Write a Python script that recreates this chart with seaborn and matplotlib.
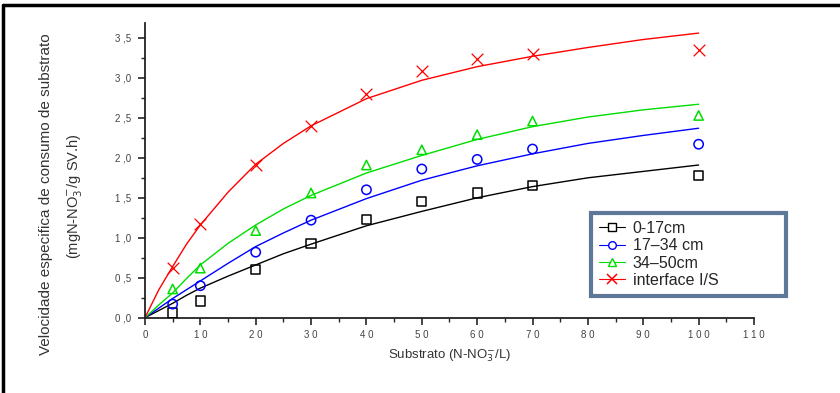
"""
Velocidade especifica de consumo de substrato vs substrato (N-NO3-)
Pontos experimentais e curvas ajustadas por camada do reator.
"""

import numpy as np
import pandas as pd
import matplotlib
matplotlib.use("Agg")
import matplotlib.pyplot as plt
from matplotlib.lines import Line2D
from matplotlib.ticker import MultipleLocator, FuncFormatter
import seaborn as sns

# Pontos experimentais
substrato = [5, 10, 20, 30, 40, 50, 60, 70, 100]
v_0_17 = [0.06, 0.21, 0.60, 0.93, 1.23, 1.45, 1.56, 1.65, 1.78]
v_17_34 = [0.17, 0.40, 0.82, 1.22, 1.60, 1.86, 1.98, 2.11, 2.17]
v_34_50 = [0.36, 0.62, 1.09, 1.56, 1.91, 2.10, 2.29, 2.46, 2.53]
v_interface = [0.62, 1.17, 1.91, 2.40, 2.80, 3.09, 3.23, 3.30, 3.35]

# Curvas ajustadas
x_curva = [0, 2.5, 5, 7.5, 10, 15, 20, 25, 30, 40, 50, 60, 70, 80, 90, 100]
c_0_17 = [0.0, 0.09, 0.18, 0.28, 0.37, 0.52, 0.66, 0.80, 0.92, 1.15, 1.33, 1.50, 1.64, 1.75, 1.83, 1.91]
c_17_34 = [0.0, 0.12, 0.24, 0.35, 0.46, 0.68, 0.89, 1.06, 1.22, 1.49, 1.72, 1.90, 2.05, 2.18, 2.28, 2.37]
c_34_50 = [0.0, 0.16, 0.31, 0.49, 0.66, 0.93, 1.16, 1.36, 1.53, 1.81, 2.03, 2.23, 2.39, 2.51, 2.60, 2.67]
c_interface = [0.0, 0.35, 0.64, 0.92, 1.16, 1.57, 1.92, 2.18, 2.40, 2.74, 2.97, 3.14, 3.27, 3.38, 3.48, 3.56]

series = ["0-17cm", "17\u201334 cm", "34\u201350cm", "interface I/S"]
cores = ["#000000", "#0000ff", "#00dd00", "#ff0000"]
marcadores = ["s", "o", "^", "x"]


def main():
    sns.set_style("ticks")
    plt.rcParams["font.family"] = ["Liberation Sans", "DejaVu Sans"]

    fig = plt.figure(figsize=(8.4, 3.93), dpi=100)
    ax = fig.add_axes([0.1726, 0.1916, 0.725, 0.7506])

    pontos = pd.DataFrame({
        "S": substrato * 4,
        "v": v_0_17 + v_17_34 + v_34_50 + v_interface,
        "serie": np.repeat(series, len(substrato)),
    })
    curvas = pd.DataFrame({
        "S": x_curva * 4,
        "v": c_0_17 + c_17_34 + c_34_50 + c_interface,
        "serie": np.repeat(series, len(x_curva)),
    })
    paleta = dict(zip(series, cores))

    sns.lineplot(data=curvas, x="S", y="v", hue="serie", palette=paleta,
                 linewidth=1.0, legend=False, ax=ax)

    for nome, cor, m in zip(series, cores, marcadores):
        sub = pontos[pontos["serie"] == nome]
        if m == "x":
            ax.scatter(sub["S"], sub["v"], marker="x", s=70, color=cor,
                       linewidths=0.9, zorder=3)
        else:
            ax.scatter(sub["S"], sub["v"], marker=m, s=45, facecolors="none",
                       edgecolors=cor, linewidths=1.1, zorder=3)

    ax.set_xlim(0, 110)
    ax.set_ylim(0, 3.69)
    ax.xaxis.set_major_locator(MultipleLocator(10))
    ax.xaxis.set_minor_locator(MultipleLocator(5))
    ax.yaxis.set_major_locator(MultipleLocator(0.5))
    ax.yaxis.set_minor_locator(MultipleLocator(0.25))
    ax.yaxis.set_major_formatter(FuncFormatter(lambda v, p: f"{v:.1f}".replace(".", " ,")))
    ax.xaxis.set_major_formatter(FuncFormatter(lambda v, p: " ".join(f"{v:.0f}")))
    ax.tick_params(which="major", length=5, width=1.2, labelsize=7,
                   labelcolor="#444444", pad=5)
    ax.tick_params(axis="x", which="major", pad=3.5)
    ax.tick_params(which="minor", length=3, width=1.0)
    ax.margins(0)
    sns.despine(ax=ax)
    for s in ["left", "bottom"]:
        ax.spines[s].set_linewidth(1.3)
        ax.spines[s].set_color("#222222")

    ax.set_xlabel("Substrato (N-NO$_3^{-}$/L)", fontsize=9.5, color="#333333",
                  labelpad=6)
    ax.set_ylabel("")
    fig.text(0.055, 0.505, "Velocidade especifica de consumo de substrato",
             rotation=90, ha="center", va="center", fontsize=11, color="#333333")
    fig.text(0.090, 0.50, "(mgN-NO$_3^{-}$/g SV.h)", rotation=90,
             ha="center", va="center", fontsize=10.5, color="#333333")

    handles = []
    for nome, cor, m in zip(series, cores, marcadores):
        if m == "x":
            h = Line2D([], [], color=cor, marker=m, markersize=7, linewidth=0.8,
                       markeredgewidth=1.1)
        else:
            h = Line2D([], [], color=cor, marker=m, markersize=5.5, linewidth=0.8,
                       markerfacecolor="white", markeredgecolor=cor, markeredgewidth=1.0)
        handles.append(h)
    leg = fig.legend(handles, series, loc="lower left",
                     bbox_to_anchor=(0.7036, 0.2468, 0.232, 0.254), mode="expand",
                     fontsize=11.5, frameon=True, fancybox=False, handlelength=1.6,
                     handletextpad=0.5, labelspacing=0.15, borderpad=0.5,
                     borderaxespad=0)
    leg.get_frame().set_edgecolor("#36577f")
    leg.get_frame().set_linewidth(3)

    # moldura da figura
    fig.add_artist(Line2D([0.0036, 1.0], [0.9885, 0.9885], color="black",
                          linewidth=2.5, transform=fig.transFigure))
    fig.add_artist(Line2D([0.0036, 0.0036], [0.0, 0.9885], color="black",
                          linewidth=2.5, transform=fig.transFigure))

    fig.savefig("out.png", dpi=100)


if __name__ == "__main__":
    main()
